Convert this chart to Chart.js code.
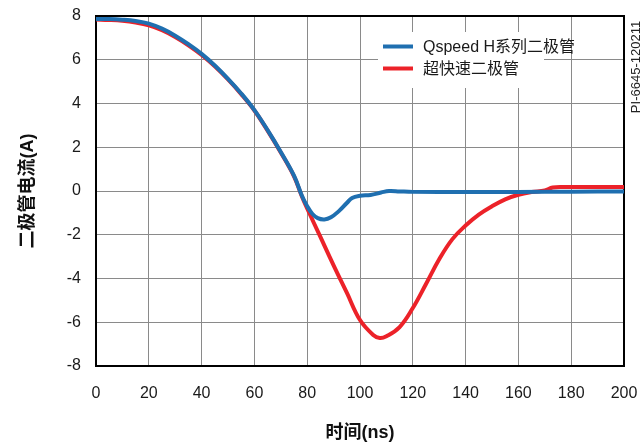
<!DOCTYPE html>
<html>
<head>
<meta charset="utf-8">
<script src="https://cdn.jsdelivr.net/npm/chart.js@4"></script>
<style>
	body { margin: 0; background: #fff; }
	canvas { display: block; }
</style>
</head>
<body>
<canvas id="chart" width="641" height="447"></canvas>
<script>
// values (time in ns, current in A)
const qspeedTime = [0, 5, 10, 15, 20, 25, 30, 35, 40, 45, 50, 55, 60, 65, 70, 75, 78, 80, 82, 84, 86.5, 89, 92, 95, 97, 100, 104, 108, 111, 115, 120, 140, 160, 180, 200];
const qspeedCurrent = [7.86, 7.86, 7.83, 7.77, 7.65, 7.42, 7.1, 6.71, 6.27, 5.74, 5.13, 4.46, 3.7, 2.78, 1.78, 0.7, -0.22, -0.7, -1.05, -1.24, -1.3, -1.2, -0.92, -0.55, -0.32, -0.22, -0.18, -0.07, 0.0, -0.02, -0.04, -0.04, -0.04, -0.03, -0.02];

const ultraTime = [0, 5, 10, 15, 20, 25, 30, 35, 40, 45, 50, 55, 60, 65, 70, 75, 78, 80, 85, 90, 95, 100, 105, 107.5, 110, 115, 120, 125, 130, 135, 140, 145, 150, 155, 160, 165, 170, 173, 178, 200];
const ultraCurrent = [7.84, 7.82, 7.78, 7.7, 7.57, 7.35, 7.04, 6.66, 6.22, 5.7, 5.1, 4.43, 3.68, 2.76, 1.76, 0.67, -0.25, -0.8, -2.1, -3.4, -4.65, -5.9, -6.58, -6.72, -6.64, -6.22, -5.35, -4.25, -3.12, -2.2, -1.58, -1.08, -0.7, -0.38, -0.17, -0.05, 0.02, 0.16, 0.18, 0.18];

const seriesNames = ["Qspeed H系列二极管", "超快速二极管"];
const seriesColors = ["#1f6fb0", "#ec2229"];

const xTitle = "时间(ns)";
const yTitle = "二极管电流(A)";
const figureCode = "PI-6645-120211";

const toPoints = (xs, ys) => xs.map((x, i) => ({ x: x, y: ys[i] }));

// box round the plot, drawn over the grid
const framePlugin = {
	id: "frame",
	beforeDatasetsDraw(chart) {
		const { ctx, chartArea: a } = chart;
		ctx.save();
		ctx.strokeStyle = "#000";
		ctx.lineWidth = 2;
		ctx.strokeRect(a.left, a.top, a.right - a.left, a.bottom - a.top);
		ctx.restore();
	},
};

// legend inside the plot with a white box, plus the figure code on the right
const insideLegend = {
	id: "insideLegend",
	afterDatasetsDraw(chart) {
		const { ctx, chartArea: a } = chart;
		const x0 = a.left + 282;
		const y0 = a.top + 16;
		ctx.save();
		ctx.fillStyle = "#fff";
		ctx.fillRect(x0, y0, 166, 56);
		ctx.font = '16px "Liberation Sans", "Noto Sans CJK SC", sans-serif';
		ctx.textBaseline = "middle";
		seriesNames.forEach((name, i) => {
			const y = y0 + 14.5 + i * 22;
			ctx.strokeStyle = seriesColors[i];
			ctx.lineWidth = 4;
			ctx.beginPath();
			ctx.moveTo(x0 + 5, y);
			ctx.lineTo(x0 + 35, y);
			ctx.stroke();
			ctx.fillStyle = "#1a1a1a";
			ctx.fillText(name, x0 + 45, y + 1);
		});
		ctx.restore();
	},
	afterDraw(chart) {
		const { ctx } = chart;
		ctx.save();
		ctx.translate(636, 67);
		ctx.rotate(-Math.PI / 2);
		ctx.font = '13px "Liberation Sans", sans-serif';
		ctx.fillStyle = "#222";
		ctx.textAlign = "center";
		ctx.textBaseline = "middle";
		ctx.fillText(figureCode, 0, 0);
		ctx.restore();
	},
};

const tickFont = { family: '"Liberation Sans", Arial, sans-serif', size: 16 };
const titleFont = { family: '"Liberation Sans", "Noto Sans CJK SC", sans-serif', size: 18, weight: "bold" };

new Chart(document.getElementById("chart").getContext("2d"), {
	type: "line",
	data: {
		datasets: [
			{
				label: seriesNames[0],
				data: toPoints(qspeedTime, qspeedCurrent),
				borderColor: seriesColors[0],
				borderWidth: 4,
				pointRadius: 0,
				tension: 0.4,
			},
			{
				label: seriesNames[1],
				data: toPoints(ultraTime, ultraCurrent),
				borderColor: seriesColors[1],
				borderWidth: 4,
				pointRadius: 0,
				tension: 0.4,
			},
		],
	},
	options: {
		responsive: false,
		animation: false,
		layout: { padding: { top: 16, right: 17, left: 0, bottom: 0 } },
		plugins: {
			legend: { display: false },
			tooltip: { enabled: false },
		},
		scales: {
			x: {
				type: "linear",
				min: 0,
				max: 200,
				ticks: { stepSize: 20, color: "#1a1a1a", font: tickFont, padding: 18 },
				grid: { color: "#8a8a8a", lineWidth: 1, drawTicks: false },
				border: { display: false },
				title: { display: true, text: xTitle, color: "#111", font: titleFont, padding: { top: 0, bottom: 3 } },
				afterFit: (s) => {
					s.height = 81;
					s.paddingLeft = 0;
					s.paddingRight = 0;
				},
			},
			y: {
				min: -8,
				max: 8,
				ticks: { stepSize: 2, color: "#1a1a1a", font: tickFont, padding: 15 },
				grid: { color: "#8a8a8a", lineWidth: 1, drawTicks: false },
				border: { display: false },
				title: { display: true, text: yTitle, color: "#111", font: titleFont, padding: { top: 17, bottom: 0 } },
				afterFit: (s) => {
					s.width = 96;
					s.paddingTop = 0;
					s.paddingBottom = 0;
				},
			},
		},
	},
	plugins: [framePlugin, insideLegend],
});
</script>
</body>
</html>
